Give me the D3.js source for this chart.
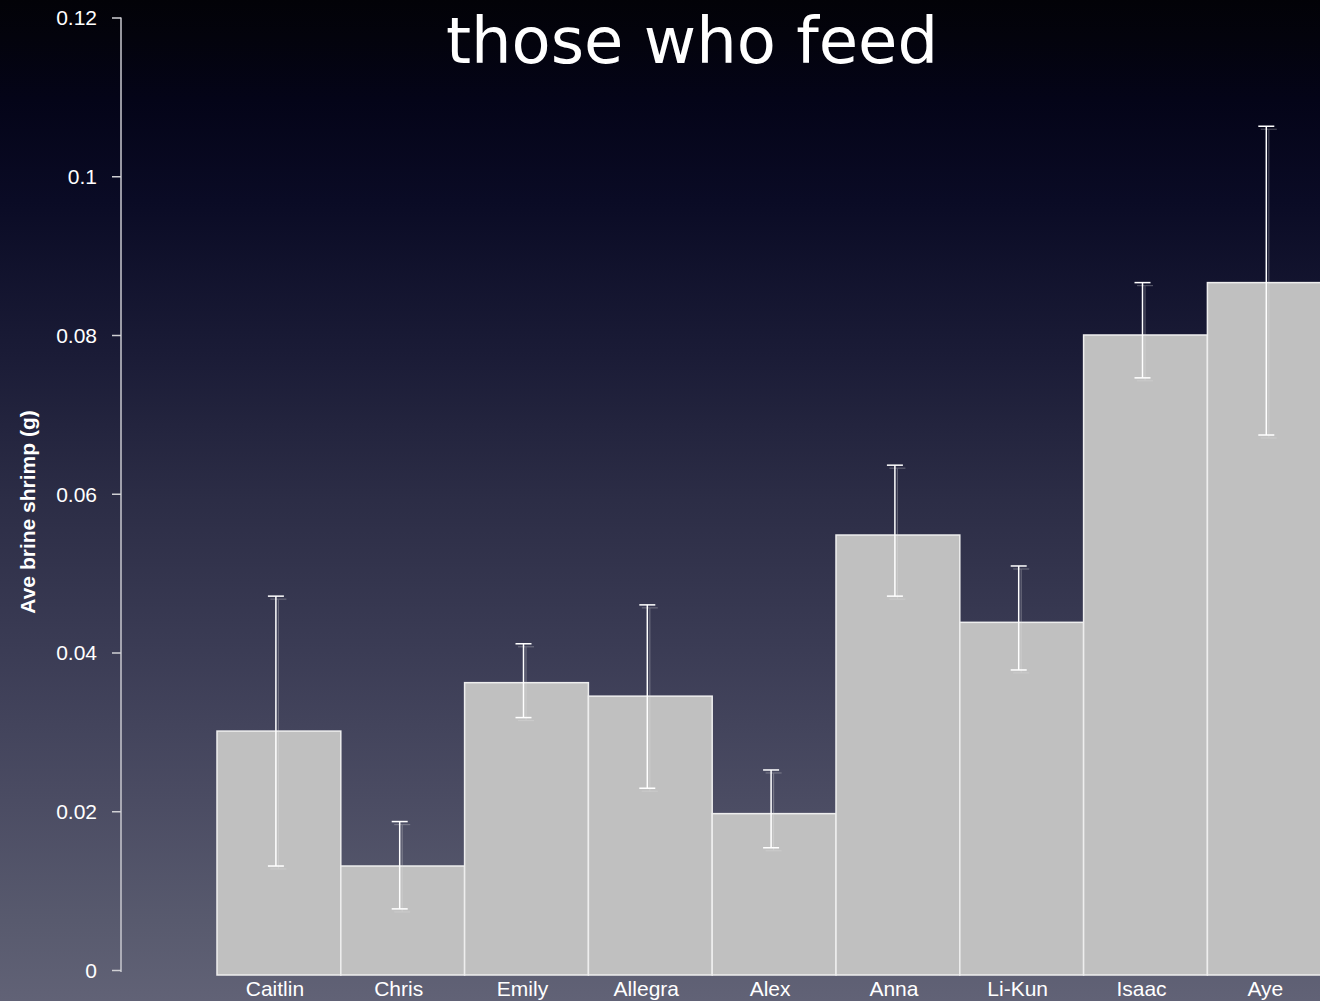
<!DOCTYPE html>
<html>
<head>
<meta charset="utf-8">
<script src="https://cdn.jsdelivr.net/npm/d3@7"></script>
<style>
  html, body { margin: 0; padding: 0; background: #030308; overflow: hidden; }
  svg { display: block; }
</style>
</head>
<body>
<script>
// Feeding data: average brine shrimp eaten per person, with error range
const names = ["Caitlin", "Chris", "Emily", "Allegra", "Alex", "Anna", "Li-Kun", "Isaac", "Aye"];
const means = [0.0301, 0.0131, 0.0362, 0.0345, 0.0197, 0.0548, 0.0438, 0.0800, 0.0866];
const errHigh = [0.0471, 0.0187, 0.0411, 0.0460, 0.0252, 0.0636, 0.0509, 0.0866, 0.1063];
const errLow = [0.0131, 0.0077, 0.0318, 0.0229, 0.0154, 0.0471, 0.0378, 0.0746, 0.0674];
const tickValues = [0, 0.02, 0.04, 0.06, 0.08, 0.1, 0.12];
const tickLabels = ["0", "0.02", "0.04", "0.06", "0.08", "0.1", "0.12"];

const W = 1320, H = 1001;
const svg = d3.select("body").append("svg").attr("width", W).attr("height", H);

// Slide background: near-black at the top fading to slate grey
const defs = svg.append("defs");
const grad = defs.append("linearGradient").attr("id", "bg").attr("x1", 0).attr("y1", 0).attr("x2", 0).attr("y2", 1);
[[0, "#020207"], [0.035, "#03030c"], [0.1, "#040418"], [0.2, "#0a0b25"], [0.35, "#1a1b36"],
 [0.5, "#2c2d46"], [0.65, "#3b3c55"], [0.8, "#4b4c63"], [0.92, "#585a6e"], [1, "#616276"]]
  .forEach(([o, c]) => grad.append("stop").attr("offset", o).attr("stop-color", c));
svg.append("rect").attr("width", W).attr("height", H).attr("fill", "url(#bg)");

// Scales
const y = d3.scaleLinear().domain([0, 0.12]).range([970, 17.5]);
const x = d3.scaleBand().domain(names).range([217, 217 + 9 * 123.8]).padding(0);
const baseY = y(0) + 5;

// Title
svg.append("text")
  .attr("x", 692).attr("y", 63)
  .attr("text-anchor", "middle")
  .attr("font-family", "DejaVu Sans, Verdana, sans-serif")
  .attr("font-size", 64)
  .attr("fill", "#ffffff")
  .text("those who feed");

// Y axis
const axis = d3.axisLeft(y).tickValues(tickValues)
  .tickFormat((d, i) => tickLabels[i]).tickSize(9).tickPadding(15);
const gAxis = svg.append("g").attr("transform", "translate(121,0)").call(axis);
gAxis.select(".domain").attr("stroke", "#c9c9cf").attr("stroke-width", 1.5)
  .attr("d", `M0,${y(0.12)}V${baseY - 3}`);
gAxis.selectAll(".tick line").attr("stroke", "#d0d0d4").attr("stroke-width", 1.5);
gAxis.selectAll(".tick text")
  .attr("fill", "#ffffff")
  .attr("font-family", "'Liberation Sans', Arial, sans-serif")
  .attr("font-size", 21)
  .attr("dy", "0.35em");

// Y axis title
svg.append("text")
  .attr("transform", "translate(35,512) rotate(-90)")
  .attr("text-anchor", "middle")
  .attr("font-family", "'Liberation Sans', Arial, sans-serif")
  .attr("font-weight", "bold")
  .attr("font-size", 21)
  .attr("fill", "#ffffff")
  .text("Ave brine shrimp (g)");

// Bars
svg.append("g").selectAll("rect").data(names).join("rect")
  .attr("x", d => x(d))
  .attr("y", (d, i) => y(means[i]))
  .attr("width", x.bandwidth())
  .attr("height", (d, i) => baseY - y(means[i]))
  .attr("fill", "#c0c0c0")
  .attr("stroke", "#eeeeee")
  .attr("stroke-width", 1.5);

// Error bars, with a faint drop shadow copy
const ex = d => x(d) + x.bandwidth() / 2 - 3;
const cap = 8;
function drawErr(g, dx, dy, color, width) {
  const eg = g.selectAll("g").data(names).join("g")
    .attr("transform", d => `translate(${ex(d) + dx},${dy})`);
  eg.append("line").attr("x1", 0).attr("x2", 0)
    .attr("y1", (d, i) => y(errHigh[i])).attr("y2", (d, i) => y(errLow[i]))
    .attr("stroke", color).attr("stroke-width", width);
  eg.append("line").attr("x1", -cap).attr("x2", cap)
    .attr("y1", (d, i) => y(errHigh[i])).attr("y2", (d, i) => y(errHigh[i]))
    .attr("stroke", color).attr("stroke-width", width);
  eg.append("line").attr("x1", -cap).attr("x2", cap)
    .attr("y1", (d, i) => y(errLow[i])).attr("y2", (d, i) => y(errLow[i]))
    .attr("stroke", color).attr("stroke-width", width);
}
drawErr(svg.append("g").attr("opacity", 0.3), 2.5, 3, "#e0e0e0", 1.2);
drawErr(svg.append("g"), 0, 0, "#ffffff", 1.5);

// Category labels
svg.append("g").selectAll("text").data(names).join("text")
  .attr("x", d => x(d) + x.bandwidth() / 2 - 4)
  .attr("y", 996)
  .attr("text-anchor", "middle")
  .attr("font-family", "'Liberation Sans', Arial, sans-serif")
  .attr("font-size", 21)
  .attr("fill", "#ffffff")
  .text(d => d);
</script>
</body>
</html>
